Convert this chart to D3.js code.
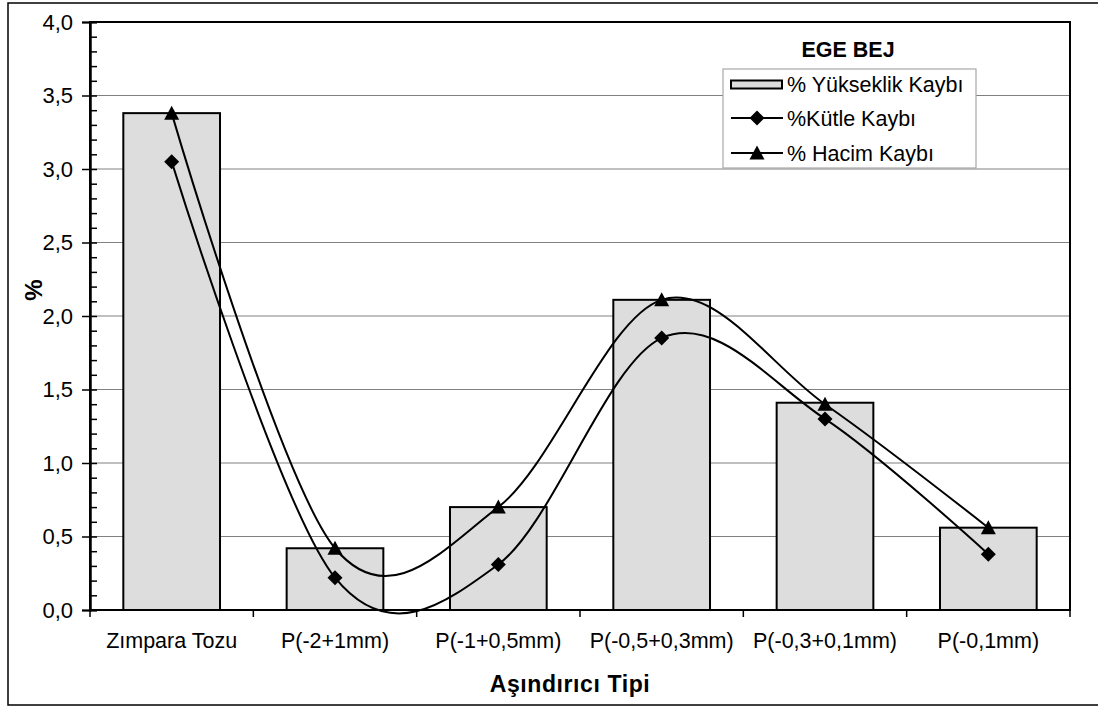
<!DOCTYPE html>
<html>
<head>
<meta charset="utf-8">
<script src="https://cdn.jsdelivr.net/npm/d3@7"></script>
<style>
  body { margin: 0; background: #fff; }
  svg { display: block; }
  text { font-family: "Liberation Sans", Arial, sans-serif; fill: #000; }
</style>
</head>
<body>
<svg id="chart" width="1098" height="706"></svg>
<script>
const categories = ["Zımpara Tozu", "P(-2+1mm)", "P(-1+0,5mm)", "P(-0,5+0,3mm)", "P(-0,3+0,1mm)", "P(-0,1mm)"];
const yukseklikKaybi = [3.38, 0.42, 0.70, 2.11, 1.41, 0.56];
const kutleKaybi = [3.05, 0.22, 0.31, 1.85, 1.30, 0.38];
const hacimKaybi = [3.38, 0.42, 0.70, 2.11, 1.40, 0.56];
const yTicks = [0, 0.5, 1.0, 1.5, 2.0, 2.5, 3.0, 3.5, 4.0];
const seriesNames = ["% Yükseklik Kaybı", "%Kütle Kaybı", "% Hacim Kaybı"];
const chartTitle = "EGE BEJ";
const xTitle = "Aşındırıcı Tipi";
const yTitle = "%";

const svg = d3.select("#chart");
const L = 90, R = 1070, T = 22, B = 610;
const FS = 21.5;

svg.append("rect").attr("x", 0).attr("y", 0).attr("width", 1098).attr("height", 706).attr("fill", "#fff");
// outer chart border
svg.append("rect").attr("x", 8).attr("y", 3).attr("width", 1100).attr("height", 702)
  .attr("fill", "none").attr("stroke", "#000").attr("stroke-width", 1.5);

const x = d3.scaleBand().domain(categories).range([L, R]).padding(0);
const y = d3.scaleLinear().domain([0, 4]).range([B, T]);
const bw = x.bandwidth() * 0.592;

// gridlines
svg.append("g").selectAll("line").data(yTicks.filter(d => d > 0 && d < 4)).join("line")
  .attr("x1", L).attr("x2", R).attr("y1", d => y(d)).attr("y2", d => y(d))
  .attr("stroke", "#808080").attr("stroke-width", 1);

// bars
svg.append("g").selectAll("rect").data(categories).join("rect")
  .attr("x", (c) => x(c) + (x.bandwidth() - bw) / 2)
  .attr("width", bw)
  .attr("y", (c, i) => y(yukseklikKaybi[i]))
  .attr("height", (c, i) => y(0) - y(yukseklikKaybi[i]))
  .attr("fill", "#dddddd").attr("stroke", "#000").attr("stroke-width", 2);

// lines
const line = d3.line()
  .x((d, i) => x(categories[i]) + x.bandwidth() / 2)
  .y(d => y(d))
  .curve(d3.curveCardinal.tension(0));

svg.append("path").datum(kutleKaybi).attr("d", line)
  .attr("fill", "none").attr("stroke", "#000").attr("stroke-width", 2);
svg.append("path").datum(hacimKaybi).attr("d", line)
  .attr("fill", "none").attr("stroke", "#000").attr("stroke-width", 2);

const diamondPath = "M0,-7.5L7.5,0L0,7.5L-7.5,0Z";
const trianglePath = "M0,-7.5L7.5,6.5L-7.5,6.5Z";

svg.append("g").selectAll("path").data(kutleKaybi).join("path")
  .attr("d", diamondPath)
  .attr("transform", (d, i) => `translate(${x(categories[i]) + x.bandwidth() / 2},${y(d)})`)
  .attr("fill", "#000");
svg.append("g").selectAll("path").data(hacimKaybi).join("path")
  .attr("d", trianglePath)
  .attr("transform", (d, i) => `translate(${x(categories[i]) + x.bandwidth() / 2},${y(d)})`)
  .attr("fill", "#000");

// plot border (top/right)
svg.append("rect").attr("x", L).attr("y", T).attr("width", R - L).attr("height", B - T)
  .attr("fill", "none").attr("stroke", "#000").attr("stroke-width", 2);

// y axis
const fmt = d => d3.format(".1f")(d).replace(".", ",");
const yAxis = svg.append("g").attr("transform", `translate(${L},0)`)
  .call(d3.axisLeft(y).tickValues(yTicks).tickFormat(fmt).tickSize(8).tickPadding(9));
const minorTicks = d3.range(0, 41).map(v => v / 10);
const yMinor = svg.append("g").attr("transform", `translate(${L},0)`)
  .call(d3.axisLeft(y).tickValues(minorTicks).tickFormat("").tickSize(-7));
[yAxis, yMinor].forEach(g => {
  g.select(".domain").attr("stroke", "#000").attr("stroke-width", 2);
  g.selectAll("line").attr("stroke", "#000").attr("stroke-width", 1.5);
});
yAxis.selectAll("text").attr("font-size", 22).attr("font-family", "Liberation Sans, Arial, sans-serif");

// x axis
svg.append("line").attr("x1", L).attr("x2", R).attr("y1", B).attr("y2", B)
  .attr("stroke", "#000").attr("stroke-width", 2);
const boundaries = categories.map(c => x(c)).concat([x(categories[categories.length - 1]) + x.bandwidth()]);
svg.append("g").selectAll("line").data(boundaries).join("line")
  .attr("x1", d => d).attr("x2", d => d).attr("y1", B).attr("y2", B + 7)
  .attr("stroke", "#000").attr("stroke-width", 1.5);
svg.append("g").selectAll("text").data(categories).join("text")
  .attr("x", c => x(c) + x.bandwidth() / 2).attr("y", 648)
  .attr("text-anchor", "middle").attr("font-size", FS).text(c => c);

// axis titles
svg.append("text").attr("x", 570).attr("y", 692).attr("text-anchor", "middle")
  .attr("font-size", 23).attr("font-weight", "bold").attr("letter-spacing", 0.6).text(xTitle);
svg.append("text").attr("transform", "translate(42,290) rotate(-90)")
  .attr("text-anchor", "middle").attr("font-size", 24).attr("font-weight", "bold").text(yTitle);

// chart title
svg.append("text").attr("x", 848).attr("y", 57).attr("text-anchor", "middle")
  .attr("font-size", FS).attr("font-weight", "bold").text(chartTitle);

// legend
const lg = svg.append("g");
lg.append("rect").attr("x", 723).attr("y", 69).attr("width", 253).attr("height", 99)
  .attr("fill", "#fff").attr("stroke", "#a8a8a8").attr("stroke-width", 1.2);
const rowY = [84.5, 118, 153];
lg.append("rect").attr("x", 731).attr("y", rowY[0] - 4).attr("width", 51).attr("height", 8)
  .attr("fill", "#dddddd").attr("stroke", "#000").attr("stroke-width", 2);
[1, 2].forEach(i => {
  lg.append("line").attr("x1", 731).attr("x2", 783).attr("y1", rowY[i]).attr("y2", rowY[i])
    .attr("stroke", "#000").attr("stroke-width", 2);
  lg.append("path").attr("d", i === 1 ? diamondPath : trianglePath)
    .attr("transform", `translate(757,${rowY[i]})`).attr("fill", "#000");
});
lg.selectAll("text.leg").data(seriesNames).join("text").attr("class", "leg")
  .attr("x", 787).attr("y", (d, i) => rowY[i] + 7.5)
  .attr("font-size", FS).text(d => d);
</script>
</body>
</html>
